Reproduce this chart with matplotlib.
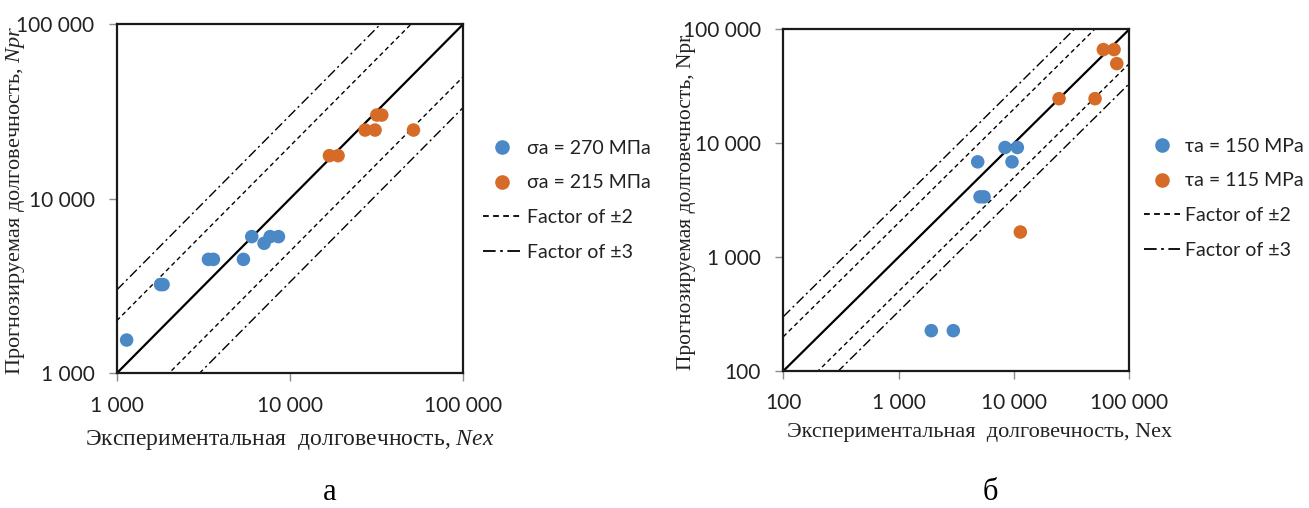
import numpy as np
import matplotlib
matplotlib.use('Agg')
import matplotlib.pyplot as plt
from matplotlib.lines import Line2D
from matplotlib.ticker import FixedLocator, FixedFormatter, NullLocator

plt.rcParams['mathtext.fontset'] = 'custom'
plt.rcParams['mathtext.it'] = 'Liberation Serif:italic'
plt.rcParams['mathtext.rm'] = 'Liberation Serif'

# panel a: sigma_a
nex_a1 = [1140, 1790, 1850, 3380, 3610, 5380, 6010, 7080, 7670, 8570]
npr_a1 = [1550, 3220, 3220, 4490, 4490, 4490, 6060, 5550, 6060, 6060]
nex_a2 = [16870, 18920, 27100, 30930, 31660, 33810, 51520]
npr_a2 = [17620, 17620, 24700, 24700, 30100, 30100, 24700]
label_a1 = 'σa = 270 МПа'
label_a2 = 'σa = 215 МПа'

# panel b: tau_a
nex_b1 = [1920, 2980, 4850, 5080, 5500, 8370, 9620, 10700]
npr_b1 = [226, 226, 6860, 3380, 3380, 9170, 6860, 9170]
nex_b2 = [11360, 24600, 50500, 59600, 73800, 77900]
npr_b2 = [1660, 24600, 24600, 66400, 66400, 50000]
label_b1 = 'τa = 150 MPa'
label_b2 = 'τa = 115 MPa'

ticks_a = [1000, 10000, 100000]
ticks_b = [100, 1000, 10000, 100000]

blue = '#4A89C5'
orange = '#D66B27'
dash2 = (0, (3.2, 2.4))
dash3 = (0, (7, 2.5, 1.5, 2.5))
sans = ['Lato', 'DejaVu Sans']
serif = 'Liberation Serif'


def fmt(v):
    return f'{v:,}'.replace(',', ' ')


def panel(ax, lo, hi, ticks, x1, y1, x2, y2, l1, l2):
    xs = np.array([lo, hi], dtype=float)
    ax.plot(xs, xs, color='black', lw=1.6, zorder=2)
    ax.plot(xs, xs * 2, color='black', lw=1.0, linestyle=dash2, zorder=2)
    ax.plot(xs, xs / 2, color='black', lw=1.0, linestyle=dash2, zorder=2)
    ax.plot(xs, xs * 3, color='black', lw=1.0, linestyle=dash3, zorder=2)
    ax.plot(xs, xs / 3, color='black', lw=1.0, linestyle=dash3, zorder=2)
    ax.scatter(x1, y1, s=95, color=blue, edgecolors='none', zorder=3)
    ax.scatter(x2, y2, s=95, color=orange, edgecolors='none', zorder=3)
    ax.set_xscale('log')
    ax.set_yscale('log')
    ax.set_xlim(lo, hi)
    ax.set_ylim(lo, hi)
    for a in (ax.xaxis, ax.yaxis):
        a.set_major_locator(FixedLocator(ticks))
        a.set_major_formatter(FixedFormatter([fmt(t) for t in ticks]))
        a.set_minor_locator(NullLocator())
    ax.tick_params(length=6, width=1, color='#8c8c8c', labelsize=15, pad=10)
    for lab in ax.get_xticklabels() + ax.get_yticklabels():
        lab.set_family(sans)
        lab.set_color('#222222')
    for sp in ax.spines.values():
        sp.set_linewidth(1.6)
        sp.set_color('#1a1a1a')
    handles = [
        Line2D([], [], marker='o', color=blue, linestyle='none', markersize=9.5),
        Line2D([], [], marker='o', color=orange, linestyle='none', markersize=9.5),
        Line2D([], [], color='black', lw=1.3, linestyle=dash2),
        Line2D([], [], color='black', lw=1.3, linestyle=dash3),
    ]
    return handles, [l1, l2, 'Factor of ±2', 'Factor of ±3']


fig = plt.figure(figsize=(13.09, 5.08), dpi=100)

ax1 = fig.add_axes([0.0892, 0.2652, 0.2648, 0.6876])
h, l = panel(ax1, 1000, 100000, ticks_a, nex_a1, npr_a1, nex_a2, npr_a2, label_a1, label_a2)
fig.legend(h, l, loc='upper left', bbox_to_anchor=(483 / 1309, 1 - 140 / 508), frameon=False,
           prop={'family': sans, 'size': 14}, labelspacing=0.9, handlelength=2.0,
           handletextpad=0.25, borderaxespad=0, borderpad=0, labelcolor='#222222')

ax2 = fig.add_axes([0.5984, 0.2697, 0.2643, 0.6726])
h, l = panel(ax2, 100, 100000, ticks_b, nex_b1, npr_b1, nex_b2, npr_b2, label_b1, label_b2)
fig.legend(h, l, loc='upper left', bbox_to_anchor=(1144 / 1309, 1 - 138 / 508), frameon=False,
           prop={'family': sans, 'size': 14}, labelspacing=0.9, handlelength=1.85,
           handletextpad=0.25, borderaxespad=0, borderpad=0, labelcolor='#222222')

fig.text(290 / 1309, 1 - 440 / 508, 'Экспериментальная  долговечность, $\\mathit{Nex}$',
         family=serif, size=17, ha='center', va='center', color='#222222')
fig.text(16 / 1309, 1 - 200 / 508, 'Прогнозируемая долговечность, $\\mathit{Npr}$',
         family=serif, size=16, ha='center', va='center', rotation=90, color='#222222')
fig.text(980 / 1309, 1 - 432 / 508, 'Экспериментальная  долговечность, Nex',
         family=serif, size=16, ha='center', va='center', color='#222222')
fig.text(686 / 1309, 1 - 202 / 508, 'Прогнозируемая долговечность, Npr',
         family=serif, size=15.5, ha='center', va='center', rotation=90, color='#222222')
fig.text(330 / 1309, 1 - 493 / 508, 'а', family=serif, size=22, ha='center', va='center')
fig.text(990 / 1309, 1 - 493 / 508, 'б', family=serif, size=22, ha='center', va='center')

fig.savefig('out.png', dpi=100)
